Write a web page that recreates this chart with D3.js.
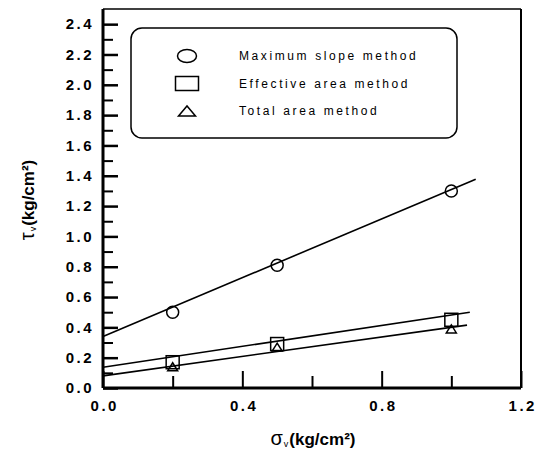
<!DOCTYPE html>
<html>
<head>
<meta charset="utf-8">
<script src="https://cdn.jsdelivr.net/npm/d3@7"></script>
<style>
  body { margin: 0; background: #fff; overflow: hidden; }
  svg { display: block; }
  text { fill: #000; }
</style>
</head>
<body>
<svg width="535" height="455" font-family="Arial, 'Liberation Sans', sans-serif"></svg>
<script>
// data
const sigma = [0.2, 0.5, 1.0];
const maxSlope = [0.50, 0.81, 1.30];
const effArea = [0.17, 0.29, 0.45];
const totArea = [0.14, 0.27, 0.39];

// fitted lines, endpoints as read
const maxFit = [[0, 0.34], [1.07, 1.377]];
const effFit = [[0, 0.137], [1.053, 0.50]];
const totFit = [[0, 0.08], [1.045, 0.415]];

const yMajor = d3.range(0, 2.41, 0.2);
const yMinor = d3.range(0.1, 2.41, 0.2);
const xMajor = [0, 0.4, 0.8, 1.2];
const xMinor = [0.2, 0.6, 1.0];

const legendLabels = ['Maximum slope method', 'Effective area method', 'Total area method'];

const svg = d3.select('svg');
const width = +svg.attr('width');
const height = +svg.attr('height');

const margin = { top: 9, right: 14, bottom: 67, left: 103 };
const innerWidth = width - margin.left - margin.right;
const innerHeight = height - margin.top - margin.bottom;

const xScale = d3.scaleLinear().domain([0, 1.2]).range([0, innerWidth]);
const yScale = d3.scaleLinear().domain([0, 2.5]).range([innerHeight, 0]);

const g = svg.append('g')
    .attr('transform', `translate(${margin.left}, ${margin.top})`);

const tickFont = sel => sel
    .attr('font-size', 15)
    .attr('font-weight', 'bold')
    .attr('letter-spacing', 2.5);

// y axis: minor then major
g.append('g')
    .call(d3.axisLeft(yScale).tickValues(yMinor).tickSize(-10).tickFormat(''))
    .call(a => a.select('.domain').remove())
    .call(a => a.selectAll('text').remove())
    .selectAll('line').attr('stroke-width', 2);

g.append('g')
    .call(d3.axisLeft(yScale).tickValues(yMajor).tickSize(-15).tickPadding(9).tickFormat(d3.format('.1f')))
    .call(a => a.select('.domain').remove())
    .call(a => a.attr('font-family', null))
    .call(a => a.selectAll('line').attr('stroke-width', 2.5))
    .selectAll('text')
    .call(tickFont);

// x axis
g.append('g')
    .attr('transform', `translate(0, ${innerHeight})`)
    .call(d3.axisBottom(xScale).tickValues(xMinor).tickSize(-12).tickFormat(''))
    .call(a => a.select('.domain').remove())
    .call(a => a.selectAll('text').remove())
    .selectAll('line').attr('stroke-width', 2);

g.append('g')
    .attr('transform', `translate(0, ${innerHeight})`)
    .call(d3.axisBottom(xScale).tickValues(xMajor).tickSize(-17).tickPadding(12).tickFormat(d3.format('.1f')))
    .call(a => a.select('.domain').remove())
    .call(a => a.attr('font-family', null))
    .call(a => a.selectAll('line').attr('stroke-width', 2))
    .selectAll('text')
    .call(tickFont)
    .attr('dx', 1.25);

// frame
g.append('line').attr('x1', 0).attr('x2', innerWidth).attr('y1', 0).attr('y2', 0)
    .attr('stroke', '#000').attr('stroke-width', 1.5);
g.append('line').attr('x1', innerWidth).attr('x2', innerWidth).attr('y1', 0).attr('y2', innerHeight)
    .attr('stroke', '#000').attr('stroke-width', 2);
g.append('line').attr('x1', 0).attr('x2', 0).attr('y1', 0).attr('y2', innerHeight)
    .attr('stroke', '#000').attr('stroke-width', 3);
g.append('line').attr('x1', 0).attr('x2', innerWidth).attr('y1', innerHeight).attr('y2', innerHeight)
    .attr('stroke', '#000').attr('stroke-width', 3);

// fit lines
const line = d3.line().x(d => xScale(d[0])).y(d => yScale(d[1]));
[maxFit, effFit, totFit].forEach(f => {
    g.append('path').attr('d', line(f))
        .attr('fill', 'none').attr('stroke', '#000').attr('stroke-width', 1.6);
});

// markers
const marker = (sel, type, w, h) => {
    if (type === 'circle') {
        sel.append('ellipse').attr('rx', w / 2).attr('ry', h / 2);
    } else if (type === 'square') {
        sel.append('rect').attr('x', -w / 2).attr('y', -h / 2).attr('width', w).attr('height', h);
    } else {
        sel.append('path').attr('d', `M${-w / 2},${h / 2}L0,${-h / 2}L${w / 2},${h / 2}Z`);
    }
    sel.selectAll('ellipse,rect,path')
        .attr('fill', 'none').attr('stroke', '#000').attr('stroke-width', 1.5);
};

const series = [
    { vals: maxSlope, type: 'circle', w: 12, h: 12 },
    { vals: effArea, type: 'square', w: 13, h: 13 },
    { vals: totArea, type: 'triangle', w: 10, h: 8 }
];

series.forEach(s => {
    sigma.forEach((x, i) => {
        const m = g.append('g')
            .attr('transform', `translate(${xScale(x)}, ${yScale(s.vals[i])})`);
        marker(m, s.type, s.w, s.h);
    });
});

// legend
const legend = svg.append('g');
legend.append('rect')
    .attr('x', 131).attr('y', 28).attr('width', 326).attr('height', 110)
    .attr('rx', 11).attr('ry', 11)
    .attr('fill', '#fff').attr('stroke', '#000').attr('stroke-width', 1.5);

const legendMarkers = [
    { type: 'circle', w: 19, h: 13 },
    { type: 'square', w: 23, h: 14 },
    { type: 'triangle', w: 17, h: 10 }
];

legendLabels.forEach((label, i) => {
    const cy = 56 + i * 27.5;
    const m = legend.append('g').attr('transform', `translate(187, ${cy})`);
    marker(m, legendMarkers[i].type, legendMarkers[i].w, legendMarkers[i].h);
    legend.append('text')
        .attr('x', 239).attr('y', cy + 4)
        .attr('font-size', 12)
        .attr('letter-spacing', 2.6)
        .text(label);
});

// axis titles: symbol, small subscript v, then unit
const title = (parent, sym, symSize) => {
    const s = parent.append('text').attr('x', 0).attr('y', 0)
        .attr('font-size', symSize).text(sym);
    const w1 = s.node().getComputedTextLength();
    const v = parent.append('text').attr('x', w1 + 1).attr('y', 2)
        .attr('font-size', 9).text('v');
    const w2 = w1 + 1 + v.node().getComputedTextLength() + 1;
    const u = parent.append('text').attr('x', w2).attr('y', 0)
        .attr('font-size', 17).attr('font-weight', 'bold').text('(kg/cm²)');
    return w2 + u.node().getComputedTextLength();
};

const xt = svg.append('g');
const xw = title(xt, 'σ', 20);
xt.attr('transform', `translate(${313 - xw / 2}, 445)`);

const yt = svg.append('g');
const yw = title(yt, 'τ', 20);
yt.attr('transform', `translate(34, ${200 + yw / 2}) rotate(-90)`);
</script>
</body>
</html>
